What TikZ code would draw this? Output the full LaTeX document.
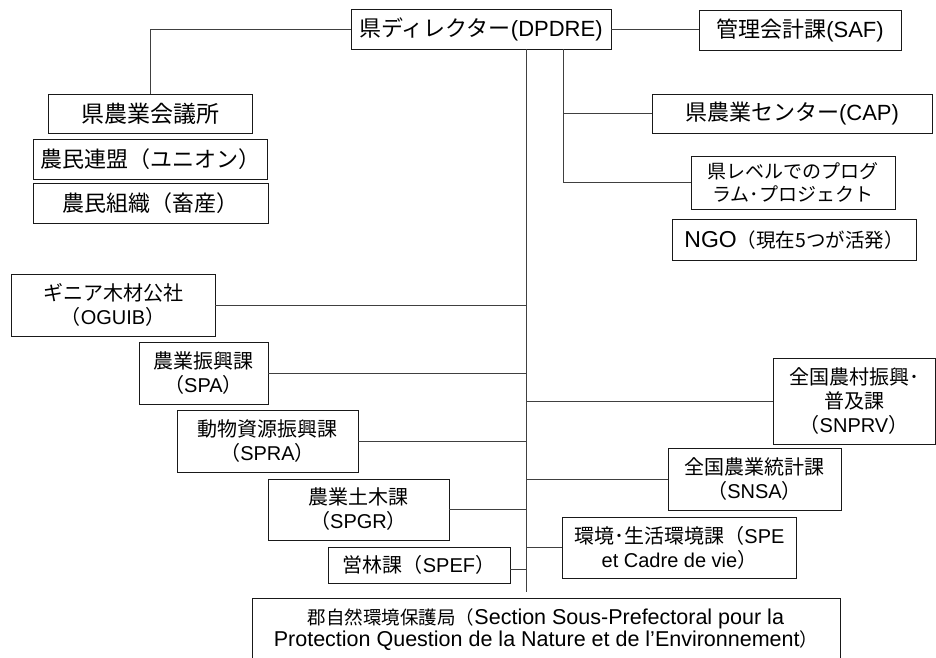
\documentclass[tikz,border=0pt]{standalone}
\usepackage{fontspec}
\setmainfont{Liberation Sans}
\newfontfamily\jp{Noto Sans CJK JP}
\newcommand{\J}[1]{{\jp #1}}
\begin{document}
\begin{tikzpicture}[x=1pt,y=-1pt,
  box/.style={draw=black!90, line width=0.9pt, fill=white, inner sep=0pt, align=center,
    font=\fontsize{20}{24}\selectfont},
  big/.style={font=\fontsize{22}{26}\selectfont},
  conn/.style={draw=black!75, line width=0.9pt}]
\useasboundingbox (0,0) rectangle (936,657);
\fill[white] (0,0) rectangle (936,657);
% top row
\node[box,big,minimum width=260,minimum height=40] (dir) at (481,29) {\J{県ディレクター}(DPDRE)};
\node[box,big,minimum width=202,minimum height=40] (saf) at (800,30) {\J{管理会計課}(SAF)};
% left group
\node[box,minimum width=204,minimum height=39,font=\fontsize{23}{26}\selectfont] (kaigi) at (150,113.5) {\J{県農業会議所}};
\node[box,big,minimum width=234,minimum height=40] (union) at (150,159) {\J{農民連盟（ユニオン）}};
\node[box,big,minimum width=235,minimum height=40] (kumi) at (150.5,203) {\J{農民組織（畜産）}};
% right upper group
\node[box,big,minimum width=280,minimum height=39] (cap) at (792,113.5) {\J{県農業センター}(CAP)};
\node[box,minimum width=204,minimum height=53,font=\fontsize{19}{23}\selectfont] (prog) at (793,182.5) {\J{県レベルでのプログ}\\\J{ラム･プロジェクト}};
\node[box,minimum width=244,minimum height=41,font=\fontsize{23}{26}\selectfont] (ngo) at (794,240) {NGO{\fontsize{19.5}{20}\selectfont\J{（現在5つが活発）}}};
% lower left
\node[box,minimum width=204,minimum height=62] (oguib) at (113,305) {\J{ギニア木材公社}\\\J{（}OGUIB\J{）}};
\node[box,minimum width=129,minimum height=62] (spa) at (203.5,373) {\J{農業振興課}\\\J{（}SPA\J{）}};
\node[box,minimum width=181,minimum height=62] (spra) at (267.5,441) {\J{動物資源振興課}\\\J{（}SPRA\J{）}};
\node[box,minimum width=181,minimum height=61] (spgr) at (358.5,509.5) {\J{農業土木課}\\\J{（}SPGR\J{）}};
\node[box,minimum width=182,minimum height=36] (spef) at (419,565) {\J{営林課（}SPEF\J{）}};
% lower right
\node[box,minimum width=162,minimum height=86] (snprv) at (854,401) {\J{全国農村振興･}\\\J{普及課}\\\J{（}SNPRV\J{）}};
\node[box,minimum width=173,minimum height=62] (snsa) at (754.5,479) {\J{全国農業統計課}\\\J{（}SNSA\J{）}};
\node[box,minimum width=234,minimum height=61] (spe) at (679.5,547.5) {\J{環境･生活環境課（}SPE\\et Cadre de vie\J{）}};
% bottom
\node[box,minimum width=588,minimum height=62,font=\fontsize{21.5}{22.5}\selectfont] (sec) at (546,629.5) {{\fontsize{18.5}{22.5}\selectfont\J{郡自然環境保護局（}}Section Sous-Prefectoral pour la\\Protection Question de la Nature et de l’Environnement{\fontsize{18.5}{22.5}\selectfont\J{）}}};
% trunk coordinates
\coordinate (ttop) at (526,49);
\coordinate (tbot) at (526,592);
\coordinate (btop) at (563,49);
\coordinate (spefc) at (510,569);
% connectors
\draw[conn] (dir.west) -| (kaigi.north);
\draw[conn] (dir.east) -- (dir.east -| saf.west);
\draw[conn] (ttop) -- (tbot);
\draw[conn] (btop) |- (prog.west);
\draw[conn] (btop |- cap.west) -- (cap.west);
\draw[conn] (oguib.east) -- (oguib.east -| ttop);
\draw[conn] (spa.east) -- (spa.east -| ttop);
\draw[conn] (spra.east) -- (spra.east -| ttop);
\draw[conn] (spgr.east) -- (spgr.east -| ttop);
\draw[conn] (spefc) -- (spefc -| ttop);
\draw[conn] (snprv.west) -- (snprv.west -| ttop);
\draw[conn] (snsa.west) -- (snsa.west -| ttop);
\draw[conn] (spe.west) -- (spe.west -| ttop);
\end{tikzpicture}
\end{document}
